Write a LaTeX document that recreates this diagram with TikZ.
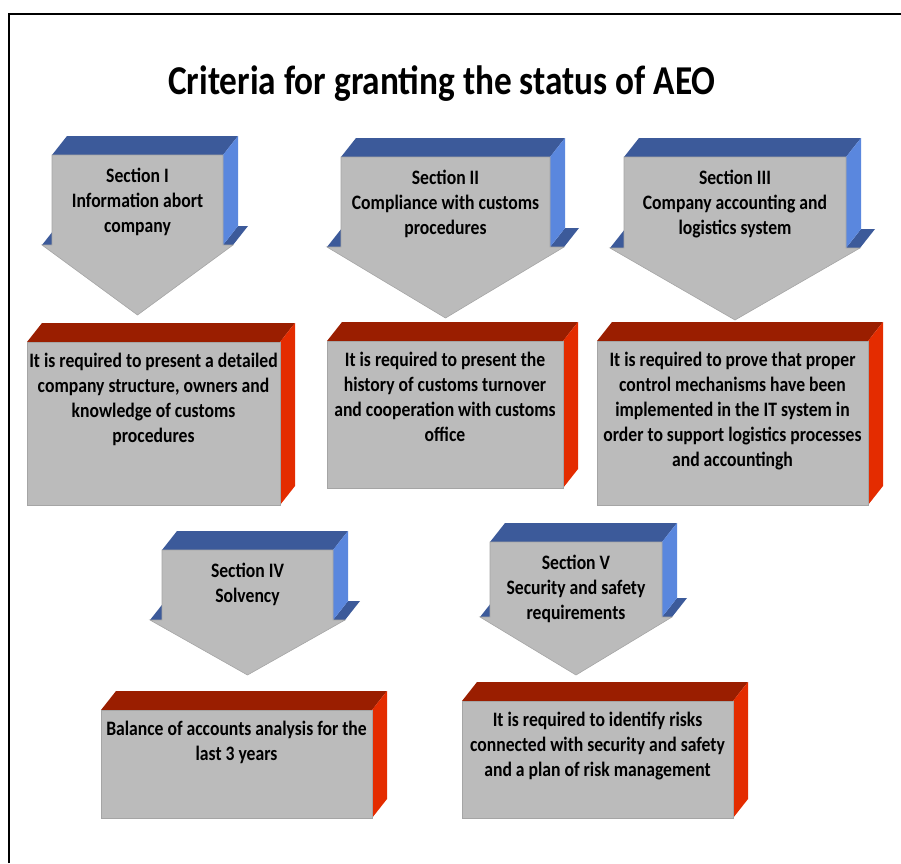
\documentclass[tikz,border=0pt]{standalone}
\usepackage{fontspec}
\setmainfont{Carlito}[FakeStretch=0.86]
\usepackage{tikz}
\definecolor{topblue}{HTML}{3C5A9A}
\definecolor{sideblue}{HTML}{5A87DE}
\definecolor{topred}{HTML}{9A1E00}
\definecolor{sidered}{HTML}{E42C00}
\definecolor{facegray}{HTML}{BBBBBB}

\begin{document}
\begin{tikzpicture}
    [
        x=1pt, y=-1pt,
        face/.style={fill=facegray, draw=facegray!88!black, line width=0.6pt},
        lbl/.style={font=\bfseries\fontsize{20.5}{25}\selectfont, align=center, text width=280pt, anchor=base, inner sep=0pt},
    ]

\useasboundingbox (0,0) rectangle (901,863);
\draw[line width=2.6pt] (9,863) -- (9,14) -- (901,14);

\node[anchor=base, font=\bfseries\fontsize{41}{49}\selectfont] (title) at (442,94) {Criteria for granting the status of AEO};

% arrows: left/right/top/shoulder/tip/wing
\foreach \l/\r/\t/\s/\p/\w/\nm/\txt in {
    52/223/155/245/315/10/secI/{Section I\\Information abort\\company},
    341/550/157/247/318/14/secII/{Section II\\Compliance with customs\\procedures},
    624/846/157/248/320/14/secIII/{Section III\\Company accounting and\\logistics system},
    162/333/550/620/675/12/secIV/{Section IV\\Solvency},
    490/662/542/617/675/10/secV/{Section V\\Security and safety\\requirements}}
{
  \fill[topblue] (\l,\t) -- (\r,\t) -- (\r+15,\t-19) -- (\l+15,\t-19) -- cycle;
  \fill[topblue] (\l-\w,\s) -- (\l,\s) -- (\l+15,\s-19) -- (\l-\w+15,\s-19) -- cycle;
  \fill[topblue] (\r,\s) -- (\r+\w,\s) -- (\r+\w+15,\s-19) -- (\r+15,\s-19) -- cycle;
  \fill[sideblue] (\r,\t) -- (\r+15,\t-19) -- (\r+15,\s-19) -- (\r,\s) -- cycle;
  \draw[face] (\l,\t) -- (\r,\t) -- (\r,\s) -- (\r+\w,\s) -- ({(\l+\r)/2},\p)
    -- (\l-\w,\s) -- (\l,\s) -- cycle;
  \node[lbl] (\nm) at ({(\l+\r)/2},\t+27) {\spaceskip=4pt\relax\txt};
}

% requirement boxes: left/right/top/bottom
\foreach \l/\r/\t/\b/\nm/\txt in {
    27/280/342/505/reqI/{It is required to present a detailed\\company structure, owners and\\knowledge of customs\\procedures},
    327/563/341/488/reqII/{It is required to present the\\history of customs turnover\\and cooperation with customs\\office},
    597/868/341/505/reqIII/{It is required to prove that proper\\control mechanisms have been\\implemented in the IT system in\\order to support logistics processes\\and accountingh},
    101/372/710/818/reqIV/{Balance of accounts analysis for the\\last 3 years},
    462/733/701/818/reqV/{It is required to identify risks\\connected with security and safety\\and a plan of risk management}}
{
  \fill[topred] (\l,\t) -- (\r,\t) -- (\r+15,\t-19) -- (\l+15,\t-19) -- cycle;
  \fill[sidered] (\r,\t) -- (\r+15,\t-19) -- (\r+15,\b-19) -- (\r,\b) -- cycle;
  \draw[face] (\l,\t) rectangle (\r,\b);
  \node[lbl] (\nm) at ({(\l+\r)/2},\t+25) {\spaceskip=4pt\relax\txt};
}
\end{tikzpicture}
\end{document}
